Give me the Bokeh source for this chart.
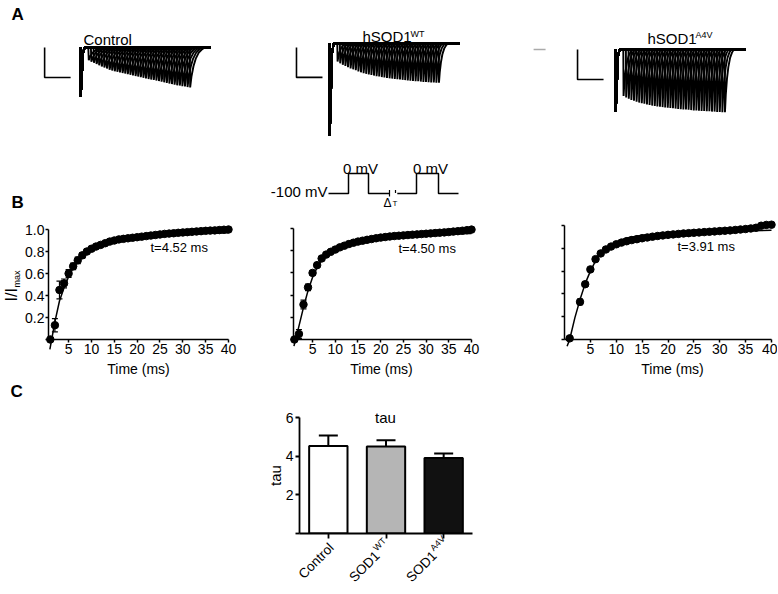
import math
from bokeh.plotting import figure
from bokeh.models import (Range1d, Whisker, TeeHead, ColumnDataSource,
                          FixedTicker, CustomJSTickFormatter)
from bokeh.layouts import column, row
from bokeh.core.properties import value
from bokeh.embed import file_html
from bokeh.resources import INLINE

FONT = "Liberation Sans"

# ---------------- data ----------------
# Panel A: paired-pulse current families (depth of 2nd-pulse peak, nA, per inter-pulse interval)
sweep_dt = list(range(1, 41))
ctrl_peak2 = [0.42, 0.47, 0.51, 0.55, 0.59, 0.63, 0.67, 0.70, 0.74, 0.77,
              0.79, 0.81, 0.83, 0.85, 0.87, 0.89, 0.91, 0.93, 0.95, 0.97,
              0.99, 1.01, 1.03, 1.05, 1.07, 1.08, 1.10, 1.12, 1.14, 1.16,
              1.18, 1.20, 1.22, 1.24, 1.26, 1.27, 1.29, 1.30, 1.32, 1.33]
wt_peak2 = [0.60, 0.66, 0.71, 0.75, 0.79, 0.83, 0.86, 0.89, 0.93, 0.96,
            0.99, 1.01, 1.03, 1.05, 1.07, 1.09, 1.10, 1.12, 1.13, 1.15,
            1.16, 1.17, 1.18, 1.19, 1.20, 1.21, 1.22, 1.23, 1.24, 1.25,
            1.26, 1.26, 1.27, 1.28, 1.28, 1.29, 1.30, 1.30, 1.31, 1.31]
a4v_peak2 = [1.55, 1.60, 1.64, 1.68, 1.71, 1.74, 1.77, 1.79, 1.81, 1.83,
             1.85, 1.87, 1.88, 1.90, 1.91, 1.92, 1.93, 1.94, 1.95, 1.96,
             1.97, 1.98, 1.99, 2.00, 2.00, 2.01, 2.02, 2.03, 2.03, 2.04,
             2.05, 2.05, 2.06, 2.06, 2.07, 2.07, 2.08, 2.08, 2.09, 2.09]
cell_names = ["Control", "hSOD1", "hSOD1"]
cell_sups = ["", "WT", "A4V"]
peak1 = [1.63, 3.07, 2.07]          # nA, first pulse
decay_ms = [5.8, 3.5, 3.5]
pulse1_ms = 2.0
sweep_end_ms = 50.0
spike1_t = [0.0, 0.1, 1.0, 1.6]
spike1_a = [0.0, 1.0, 0.1, 0.0]
spike2_f = [0.0, 0.03, 0.12, 0.25, 0.40, 0.60, 0.80, 1.0]
spike2_a = [0.0, 1.0, 0.72, 0.47, 0.28, 0.13, 0.05, 0.0]
bar_ms, bar_na = 10.0, 1.0
bar_t0 = [-13.8, -12.7, -14.6]
bar_y0 = [0.0, -0.13, 0.0]

# voltage protocol (ms, mV)
proto1_t = [0, 5, 5, 10, 10, 15.25]
proto1_v = [-100, -100, 0, 0, -100, -100]
proto2_t = [17.2, 22, 22, 27.5, 27.5, 32.5]
proto2_v = [-100, -100, 0, 0, -100, -100]

# Panel B: recovery from inactivation (I/Imax)
b1_t = list(range(1, 41))
b1_y = [0.00, 0.13, 0.45, 0.51, 0.60, 0.665, 0.72, 0.765, 0.80, 0.825,
        0.845, 0.86, 0.875, 0.89, 0.90, 0.91, 0.915, 0.92, 0.925, 0.93,
        0.935, 0.94, 0.945, 0.95, 0.955, 0.96, 0.963, 0.966, 0.97, 0.973,
        0.976, 0.979, 0.982, 0.985, 0.988, 0.99, 0.992, 0.995, 0.998, 1.00]
b1_err = [0.01, 0.06, 0.08, 0.04, 0.035, 0.03, 0.03, 0.025, 0.02, 0.02,
          0.018, 0.016, 0.015, 0.014, 0.013, 0.012, 0.012, 0.011, 0.011, 0.010,
          0.010, 0.010, 0.010, 0.010, 0.010, 0.010, 0.010, 0.010, 0.010, 0.010,
          0.010, 0.010, 0.010, 0.010, 0.010, 0.010, 0.010, 0.010, 0.010, 0.010]
fit1_t = [0.9, 2, 3, 4, 5, 6, 7, 8, 9, 10, 12, 14, 17, 20, 25, 30, 35, 40]
fit1_y = [-0.09, 0.16, 0.35, 0.47, 0.57, 0.65, 0.71, 0.755, 0.79, 0.815,
          0.855, 0.885, 0.915, 0.935, 0.953, 0.962, 0.967, 0.97]

b2_t = list(range(1, 41))
b2_y = [0.00, 0.05, 0.315, 0.47, 0.60, 0.67, 0.73, 0.765, 0.79, 0.81,
        0.83, 0.845, 0.86, 0.872, 0.882, 0.89, 0.898, 0.905, 0.912, 0.918,
        0.923, 0.928, 0.932, 0.935, 0.938, 0.941, 0.944, 0.947, 0.95, 0.953,
        0.956, 0.959, 0.962, 0.965, 0.968, 0.972, 0.976, 0.98, 0.985, 0.99]
b2_err = [0.01, 0.04, 0.04, 0.03, 0.02, 0.02, 0.015, 0.015, 0.012, 0.012,
          0.010, 0.010, 0.010, 0.010, 0.010, 0.010, 0.010, 0.010, 0.010, 0.010,
          0.010, 0.010, 0.010, 0.010, 0.010, 0.010, 0.010, 0.010, 0.010, 0.010,
          0.010, 0.010, 0.010, 0.010, 0.010, 0.010, 0.010, 0.010, 0.010, 0.010]
fit2_t = [0.9, 2, 3, 4, 5, 6, 7, 8, 9, 10, 12, 14, 17, 20, 25, 30, 35, 40]
fit2_y = [-0.06, 0.12, 0.29, 0.44, 0.56, 0.65, 0.715, 0.755, 0.785, 0.805,
          0.84, 0.865, 0.89, 0.91, 0.93, 0.942, 0.95, 0.955]

b3_t = [1] + list(range(3, 41))
b3_y = [0.01, 0.33, 0.485, 0.615, 0.705, 0.755, 0.79, 0.815, 0.835, 0.85,
        0.862, 0.872, 0.88, 0.888, 0.895, 0.902, 0.908, 0.913, 0.918, 0.922,
        0.926, 0.93, 0.933, 0.936, 0.939, 0.942, 0.945, 0.948, 0.951, 0.954,
        0.957, 0.961, 0.965, 0.969, 0.974, 0.98, 0.998, 1.005, 1.007]
b3_err = [0.01, 0.025, 0.02, 0.015, 0.012, 0.010, 0.010, 0.010, 0.010, 0.010,
          0.010, 0.010, 0.010, 0.010, 0.010, 0.010, 0.010, 0.010, 0.010, 0.010,
          0.010, 0.010, 0.010, 0.010, 0.010, 0.010, 0.010, 0.010, 0.010, 0.010,
          0.010, 0.010, 0.010, 0.010, 0.010, 0.010, 0.010, 0.010, 0.010]
fit3_t = [0.5, 1, 2, 3, 4, 5, 6, 7, 8, 9, 10, 12, 15, 20, 25, 30, 35, 40]
fit3_y = [-0.06, 0.0, 0.19, 0.35, 0.49, 0.60, 0.69, 0.755, 0.80, 0.83,
          0.855, 0.89, 0.915, 0.935, 0.945, 0.95, 0.955, 0.958]
tau_text = ["t=4.52 ms", "t=4.50 ms", "t=3.91 ms"]
b_xticks = [5, 10, 15, 20, 25, 30, 35, 40]
b_yticks = [0.2, 0.4, 0.6, 0.8, 1.0]
b_yticks_unlabelled = [0, 0.2, 0.4, 0.6, 0.8, 1.0]

# Panel C: tau bar chart
tau_groups = ["Control", "SOD1WT", "SOD1A4V"]
tau_main = ["Control", "SOD1", "SOD1"]
tau_sup = ["", "WT", "A4V"]
tau_mean = [4.52, 4.50, 3.91]
tau_sem = [0.55, 0.32, 0.23]
tau_colors = ["#ffffff", "#b5b5b5", "#111111"]
c_yticks = [2, 4, 6]


# ---------------- helpers ----------------
def make(canvas, frame, xr, yr, axes=False):
    cx, cy, cw, ch = canvas
    fl, ft, fr, fb = frame
    p = figure(width=cw, height=ch, x_range=Range1d(*xr), y_range=Range1d(*yr),
               x_axis_type="linear" if axes else None,
               y_axis_type="linear" if axes else None,
               output_backend="svg", toolbar_location=None,
               min_border_left=fl - cx, min_border_right=cx + cw - fr,
               min_border_top=ft - cy, min_border_bottom=cy + ch - fb)
    p.outline_line_color = None
    p.grid.visible = False

    def D(px, py):
        return (xr[0] + (px - fl) * (xr[1] - xr[0]) / (fr - fl),
                yr[1] - (py - ft) * (yr[1] - yr[0]) / (fb - ft))
    return p, D


def label(p, D, px, py, text, size, align="left", angle=0.0, bold=False):
    # (px, py) is the vertical middle of the text line
    x, y = D(px, py)
    p.text(x=[x], y=[y], text=[text], text_font=value(FONT),
           text_font_size=value(f"{size}px"), text_align=align,
           text_baseline="middle", angle=angle,
           text_font_style="bold" if bold else "normal",
           text_color="#000000", level="overlay")


def style_axes(p, lw=1.5, tick_out=3, standoff=1):
    for ax in p.axis:
        ax.axis_line_width = lw
        ax.axis_line_color = "#000000"
        for kind in ("major", "minor"):
            setattr(ax, f"{kind}_tick_line_width", lw)
            setattr(ax, f"{kind}_tick_line_color", "#000000")
            setattr(ax, f"{kind}_tick_out", tick_out)
            setattr(ax, f"{kind}_tick_in", 0)
        ax.major_label_text_font = FONT
        ax.major_label_text_font_size = "14px"
        ax.major_label_text_color = "#000000"
        ax.major_label_standoff = standoff


# ---------------- Panel A ----------------
a_geom = [
    ((0, 0, 260, 143), (0, 0, 260, 143), (-30.77, 69.23), (-3.2, 1.5667)),
    ((260, 0, 260, 143), (260, 0, 520, 143), (-26.54, 73.46), (-3.3333, 1.4333)),
    ((520, 0, 250, 143), (520, 0, 770, 143), (-36.54, 59.62), (-3.1333, 1.6333)),
]
peak2_sets = [ctrl_peak2, wt_peak2, a4v_peak2]
name_pos = [((83, 38.8), None), ((362, 35.8), (410, 33)), ((647, 37.8), (695, 34))]
a_figs = []
for i, (canvas, frame, xr, yr) in enumerate(a_geom):
    p, D = make(canvas, frame, xr, yr)
    xs, ys = [], []
    for dt, amp in zip(sweep_dt, peak2_sets[i]):
        t2 = pulse1_ms + dt
        xs.append(spike1_t + [t2 + decay_ms[i] * f for f in spike2_f] + [sweep_end_ms])
        ys.append([-peak1[i] * a for a in spike1_a] + [-amp * a for a in spike2_a] + [0.0])
    p.multi_line(xs, ys, line_color="#000000", line_width=1.9)
    t0, y0 = bar_t0[i], bar_y0[i]
    p.line([t0, t0, t0 + bar_ms], [y0, y0 - bar_na, y0 - bar_na],
           line_color="#000000", line_width=1.6)
    (nx, ny), sup = name_pos[i]
    label(p, D, nx, ny, cell_names[i], 15)
    if sup:
        label(p, D, sup[0], sup[1], cell_sups[i], 9)
    if i == 0:
        label(p, D, 11, 13.5, "A", 17, bold=True)
    if i == 2:
        p.line([-31.5, -26.9], [0, 0], line_color="#aaaaaa", line_width=1.5)
    a_figs.append(p)

# ---------------- protocol ----------------
fP, DP = make((0, 143, 770, 72), (299, 143, 472, 215), (-7.25, 36.0), (-210, 150))
fP.line(proto1_t, proto1_v, line_color="#000000", line_width=1.5)
fP.line(proto2_t, proto2_v, line_color="#000000", line_width=1.5)
fP.segment(x0=[15.25, 16.75], y0=[-82, -82], x1=[15.25, 16.75], y1=[-115, -98],
           line_color="#000000", line_width=1.2)
label(fP, DP, 327, 190.8, "-100 mV", 15, align="right")
label(fP, DP, 360, 167.5, "0 mV", 15, align="center")
label(fP, DP, 430, 167.5, "0 mV", 15, align="center")
label(fP, DP, 383, 202.2, "\u0394", 12)
label(fP, DP, 392, 203.2, "T", 8)
label(fP, DP, 11, 202.3, "B", 17, bold=True)

# ---------------- Panel B ----------------
b_specs = [
    dict(canvas=(0, 215, 260, 165), frame=(48, 225, 228, 339), xr=(0.6, 40), ytop=1.0364,
         t=b1_t, y=b1_y, e=b1_err, ft=fit1_t, fy=fit1_y, tau=(150, 247), xl=138, ylab=True),
    dict(canvas=(260, 215, 260, 165), frame=(293, 225, 471, 339), xr=(0.8, 40), ytop=1.027,
         t=b2_t, y=b2_y, e=b2_err, ft=fit2_t, fy=fit2_y, tau=(398, 248), xl=381, ylab=False),
    dict(canvas=(520, 215, 257, 165), frame=(564, 225, 771, 339), xr=(0, 40), ytop=1.0,
         t=b3_t, y=b3_y, e=b3_err, ft=fit3_t, fy=fit3_y, tau=(677, 246), xl=672, ylab=False),
]
b_figs = []
for i, s in enumerate(b_specs):
    p, D = make(s["canvas"], s["frame"], s["xr"], (0, s["ytop"]), axes=True)
    style_axes(p, lw=1.5, tick_out=3, standoff=1)
    p.yaxis.bounds = (0, 1)
    p.xaxis.ticker = FixedTicker(ticks=b_xticks)
    if s["ylab"]:
        p.yaxis.ticker = FixedTicker(ticks=b_yticks, minor_ticks=[0])
        p.yaxis.formatter = CustomJSTickFormatter(code="return tick.toFixed(1);")
    else:
        p.yaxis.ticker = FixedTicker(ticks=[], minor_ticks=b_yticks_unlabelled)
    src = ColumnDataSource(dict(t=s["t"], y=s["y"],
                                lo=[v - e for v, e in zip(s["y"], s["e"])],
                                hi=[v + e for v, e in zip(s["y"], s["e"])]))
    p.add_layout(Whisker(source=src, base="t", lower="lo", upper="hi",
                         line_color="#000000", line_width=1.2, level="overlay",
                         upper_head=TeeHead(size=6, line_width=1.2, line_color="#000000"),
                         lower_head=TeeHead(size=6, line_width=1.2, line_color="#000000")))
    p.line(s["ft"], s["fy"], line_color="#000000", line_width=1.5, level="overlay")
    p.scatter("t", "y", source=src, size=7.5, color="#000000", level="overlay")
    label(p, D, s["tau"][0], s["tau"][1], tau_text[i], 13)
    label(p, D, s["xl"], 368, "Time (ms)", 14, align="center")
    if s["ylab"]:
        label(p, D, 11, 301, "I/I", 16, angle=math.pi / 2)
        label(p, D, 16, 287, "max", 9, angle=math.pi / 2)
    b_figs.append(p)

# ---------------- Panel C ----------------
n_groups = len(tau_groups)
bar_x = [i + 0.5 for i in range(n_groups)]
fC, DC = make((0, 380, 770, 206), (299, 417, 472, 533), (0, n_groups), (0, 6), axes=True)
style_axes(fC, lw=1.8, tick_out=4, standoff=2)
fC.yaxis.ticker = FixedTicker(ticks=c_yticks, minor_ticks=[0])
fC.yaxis.formatter = CustomJSTickFormatter(code="return tick.toFixed(0);")
fC.xaxis.ticker = FixedTicker(ticks=[], minor_ticks=bar_x)
fC.xaxis.minor_tick_out = 5
csrc = ColumnDataSource(dict(x=bar_x, top=tau_mean, color=tau_colors,
                             hi=[m + e for m, e in zip(tau_mean, tau_sem)]))
fC.add_layout(Whisker(source=csrc, base="x", lower="top", upper="hi",
                      line_color="#000000", line_width=2, level="overlay",
                      upper_head=TeeHead(size=19, line_width=2, line_color="#000000"),
                      lower_head=None))
fC.vbar(x="x", top="top", width=0.665, source=csrc, fill_color="color",
        line_color="#000000", line_width=2)
label(fC, DC, 385, 416.5, "tau", 15, align="center")
label(fC, DC, 275, 475, "tau", 15, align="center", angle=math.pi / 2)
label(fC, DC, 10, 391, "C", 17, bold=True)

a45 = math.pi / 4
sup_dx = math.cos(a45) * 1 - math.sin(a45) * 5
sup_dy = -math.sin(a45) * 1 - math.cos(a45) * 5
anchors = [(331, 545), (377, 553), (434, 553)]
for (mx, my), main, sup in zip(anchors, tau_main, tau_sup):
    label(fC, DC, mx, my, main, 13.5, align="right", angle=a45)
    if sup:
        label(fC, DC, mx + sup_dx, my + sup_dy, sup, 9, align="left", angle=a45)

layout = column(row(*a_figs), fP, row(*b_figs), fC)
open("out.html", "w").write(file_html(layout, INLINE))
